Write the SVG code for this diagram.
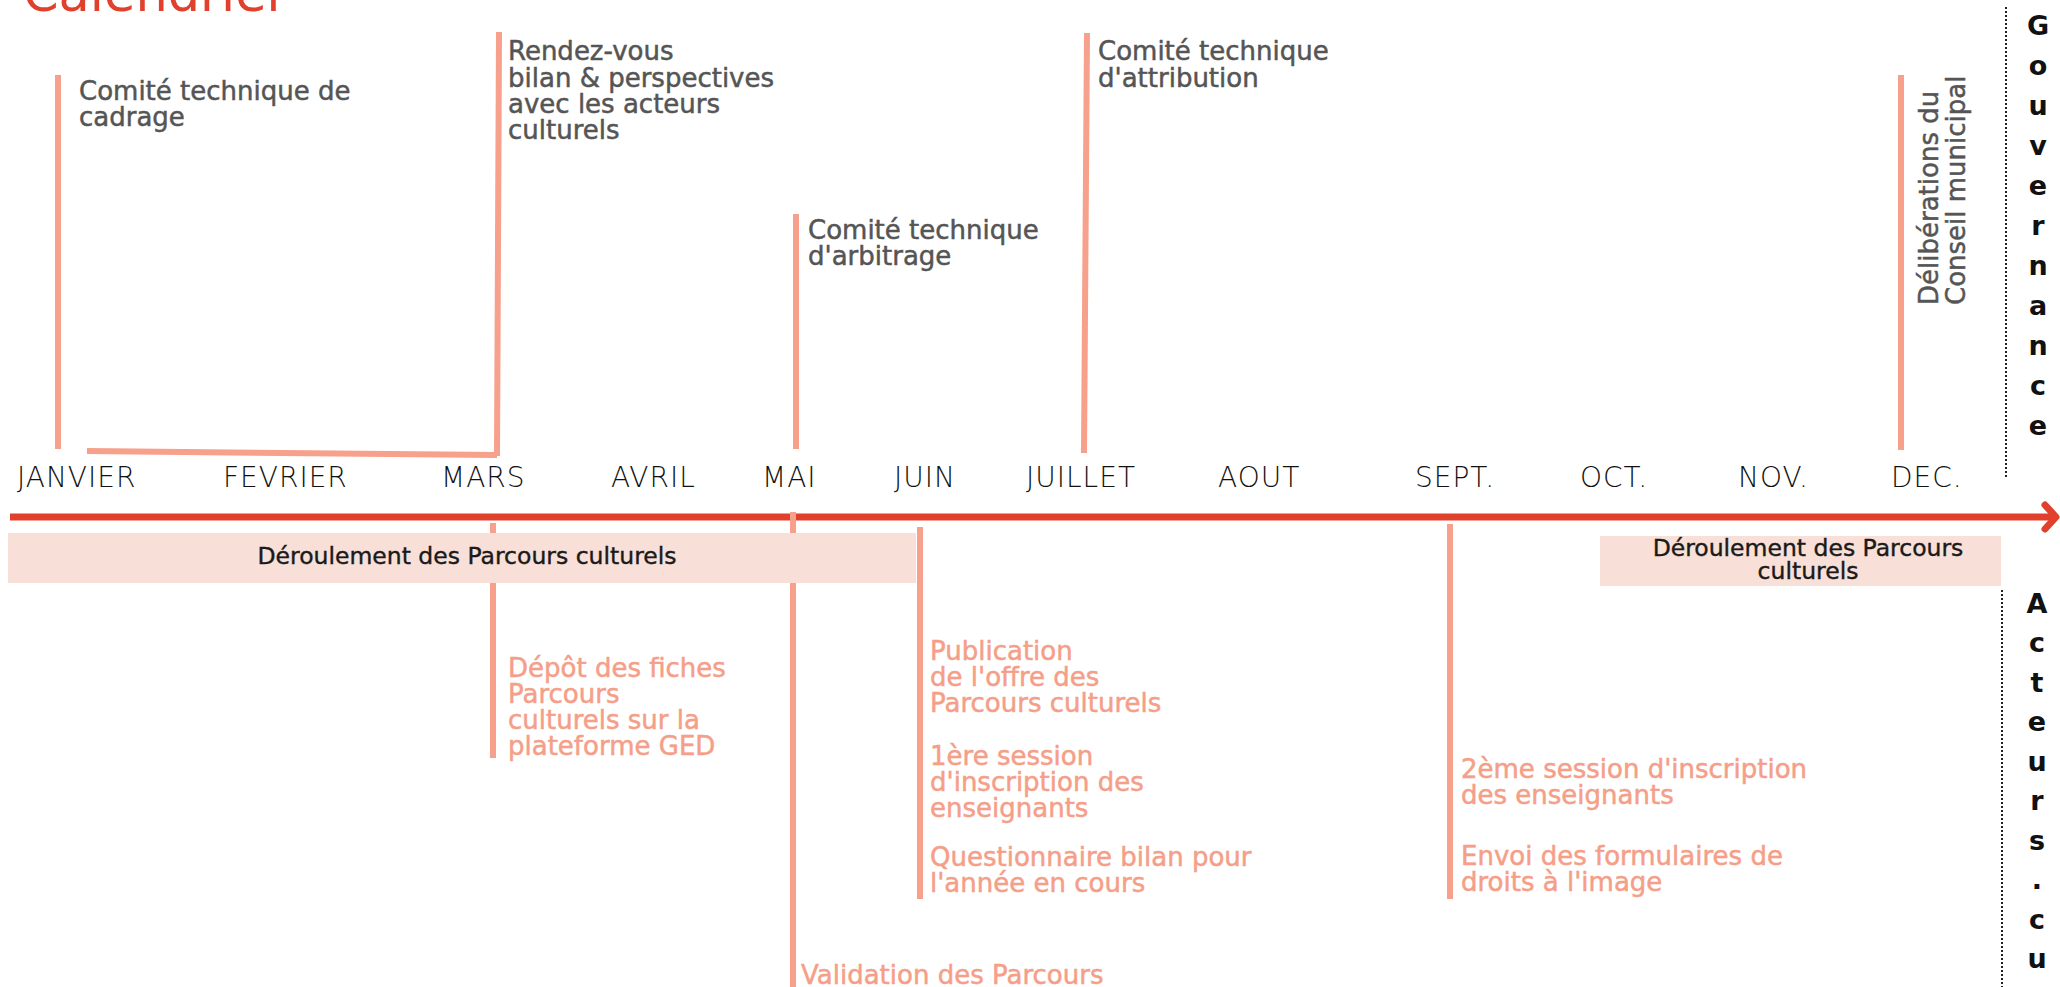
<svg xmlns="http://www.w3.org/2000/svg" width="2060" height="987" viewBox="0 0 2060 987">
  <style>
    .bg { fill: #ffffff; }
    .title { font-family: "DejaVu Sans", "Liberation Sans", sans-serif; font-size: 51px; fill: #e0402c; }
    .gov { font-family: "DejaVu Sans", "Liberation Sans", sans-serif; font-size: 26px; fill: #555555; stroke: #555555; stroke-width: 0.5px; }
    .act { font-family: "DejaVu Sans", "Liberation Sans", sans-serif; font-size: 26px; fill: #f59e88; stroke: #f59e88; stroke-width: 0.5px; }
    .month { font-family: "DejaVu Sans ExtraLight", "DejaVu Sans", sans-serif; font-weight: 200; font-size: 28px; fill: #111111; letter-spacing: 1px; }
    .band { fill: #f8e0d8; }
    .bandtxt { font-family: "DejaVu Sans", "Liberation Sans", sans-serif; font-size: 23.5px; fill: #1a1a1a; stroke: #1a1a1a; stroke-width: 0.4px; text-anchor: middle; }
    .side { font-family: "DejaVu Sans", "Liberation Sans", sans-serif; font-weight: bold; font-size: 27px; fill: #111111; text-anchor: middle; }
    .tick { stroke: #f7a08b; stroke-width: 6; fill: none; }
    .axis { stroke: #e0402c; stroke-width: 7; fill: none; }
    .dots { stroke: #222222; stroke-width: 2; stroke-dasharray: 2 2; fill: none; }
  </style>
  <rect class="bg" x="0" y="0" width="2060" height="987"/>

  <text id="title" class="title" x="23" y="11">Calendrier</text>

  <g id="axis">
    <line class="axis" x1="10" y1="517" x2="2055" y2="517"/>
    <polyline class="axis" points="2045,505 2056,517 2045,529" stroke-linecap="round" stroke-linejoin="round"/>
  </g>

  <g id="connectors">
    <line class="tick" x1="58" y1="75" x2="58" y2="449"/>
    <line class="tick" x1="87" y1="451" x2="497" y2="455"/>
    <line class="tick" x1="499" y1="32" x2="497" y2="456"/>
    <line class="tick" x1="796" y1="214" x2="796" y2="449"/>
    <line class="tick" x1="1087" y1="33" x2="1084" y2="453"/>
    <line class="tick" x1="1901" y1="75" x2="1901" y2="450"/>
    <line class="tick" x1="493" y1="523" x2="493" y2="758"/>
    <line class="tick" x1="793" y1="512" x2="793" y2="987"/>
    <line class="tick" x1="920" y1="527" x2="920" y2="899"/>
    <line class="tick" x1="1450" y1="524" x2="1450" y2="899"/>
    <line class="dots" x1="2006" y1="7" x2="2006" y2="477"/>
    <line class="dots" x1="2002" y1="590" x2="2002" y2="987"/>
  </g>

  <g id="band-left">
    <rect class="band" x="8" y="533" width="908" height="50"/>
    <text class="bandtxt" x="467" y="564">Déroulement des Parcours culturels</text>
  </g>
  <g id="band-right">
    <rect class="band" x="1600" y="536" width="401" height="50"/>
    <text class="bandtxt" x="1808" y="556">Déroulement des Parcours</text>
    <text class="bandtxt" x="1808" y="579">culturels</text>
  </g>

  <g id="months">
    <text class="month" x="17" y="487">JANVIER</text>
    <text class="month" x="223" y="487">FEVRIER</text>
    <text class="month" x="441" y="487">MARS</text>
    <text class="month" x="611" y="487">AVRIL</text>
    <text class="month" x="762" y="487">MAI</text>
    <text class="month" x="894" y="487">JUIN</text>
    <text class="month" x="1026" y="487">JUILLET</text>
    <text class="month" x="1218" y="487">AOUT</text>
    <text class="month" x="1415" y="487">SEPT.</text>
    <text class="month" x="1580" y="487">OCT.</text>
    <text class="month" x="1738" y="487">NOV.</text>
    <text class="month" x="1891" y="487">DEC.</text>
  </g>

  <g id="cadrage">
    <text class="gov" x="79" y="100">Comité technique de</text>
    <text class="gov" x="79" y="126">cadrage</text>
  </g>
  <g id="rendez-vous">
    <text class="gov" x="508" y="60">Rendez-vous</text>
    <text class="gov" x="508" y="87">bilan &amp; perspectives</text>
    <text class="gov" x="508" y="113">avec les acteurs</text>
    <text class="gov" x="508" y="139">culturels</text>
  </g>
  <g id="arbitrage">
    <text class="gov" x="808" y="239">Comité technique</text>
    <text class="gov" x="808" y="265">d'arbitrage</text>
  </g>
  <g id="attribution">
    <text class="gov" x="1098" y="60">Comité technique</text>
    <text class="gov" x="1098" y="87">d'attribution</text>
  </g>
  <g id="deliberations">
    <text class="gov" transform="translate(1938,305) rotate(-90)">
      <tspan x="0" y="0">Délibérations du</tspan>
      <tspan x="0" y="27">Conseil municipal</tspan>
    </text>
  </g>

  <g id="depot">
    <text class="act" x="508" y="677">Dépôt des fiches</text>
    <text class="act" x="508" y="703">Parcours</text>
    <text class="act" x="508" y="729">culturels sur la</text>
    <text class="act" x="508" y="755">plateforme GED</text>
  </g>
  <g id="validation">
    <text class="act" x="801" y="984">Validation des Parcours</text>
  </g>
  <g id="juin-actions">
    <text class="act" x="930" y="660">Publication</text>
    <text class="act" x="930" y="686">de l'offre des</text>
    <text class="act" x="930" y="712">Parcours culturels</text>
    <text class="act" x="930" y="765">1ère session</text>
    <text class="act" x="930" y="791">d'inscription des</text>
    <text class="act" x="930" y="817">enseignants</text>
    <text class="act" x="930" y="866">Questionnaire bilan pour</text>
    <text class="act" x="930" y="892">l'année en cours</text>
  </g>
  <g id="sept-actions">
    <text class="act" x="1461" y="778">2ème session d'inscription</text>
    <text class="act" x="1461" y="804">des enseignants</text>
    <text class="act" x="1461" y="865">Envoi des formulaires de</text>
    <text class="act" x="1461" y="891">droits à l'image</text>
  </g>

  <g id="gouvernance">
    <text class="side" x="2038" y="35">G</text>
    <text class="side" x="2038" y="75">o</text>
    <text class="side" x="2038" y="115">u</text>
    <text class="side" x="2038" y="155">v</text>
    <text class="side" x="2038" y="195">e</text>
    <text class="side" x="2038" y="235">r</text>
    <text class="side" x="2038" y="275">n</text>
    <text class="side" x="2038" y="315">a</text>
    <text class="side" x="2038" y="355">n</text>
    <text class="side" x="2038" y="395">c</text>
    <text class="side" x="2038" y="435">e</text>
  </g>
  <g id="acteurs">
    <text class="side" x="2037" y="613">A</text>
    <text class="side" x="2037" y="652">c</text>
    <text class="side" x="2037" y="692">t</text>
    <text class="side" x="2037" y="731">e</text>
    <text class="side" x="2037" y="771">u</text>
    <text class="side" x="2037" y="810">r</text>
    <text class="side" x="2037" y="850">s</text>
    <text class="side" x="2037" y="889">.</text>
    <text class="side" x="2037" y="929">c</text>
    <text class="side" x="2037" y="968">u</text>
  </g>
</svg>
